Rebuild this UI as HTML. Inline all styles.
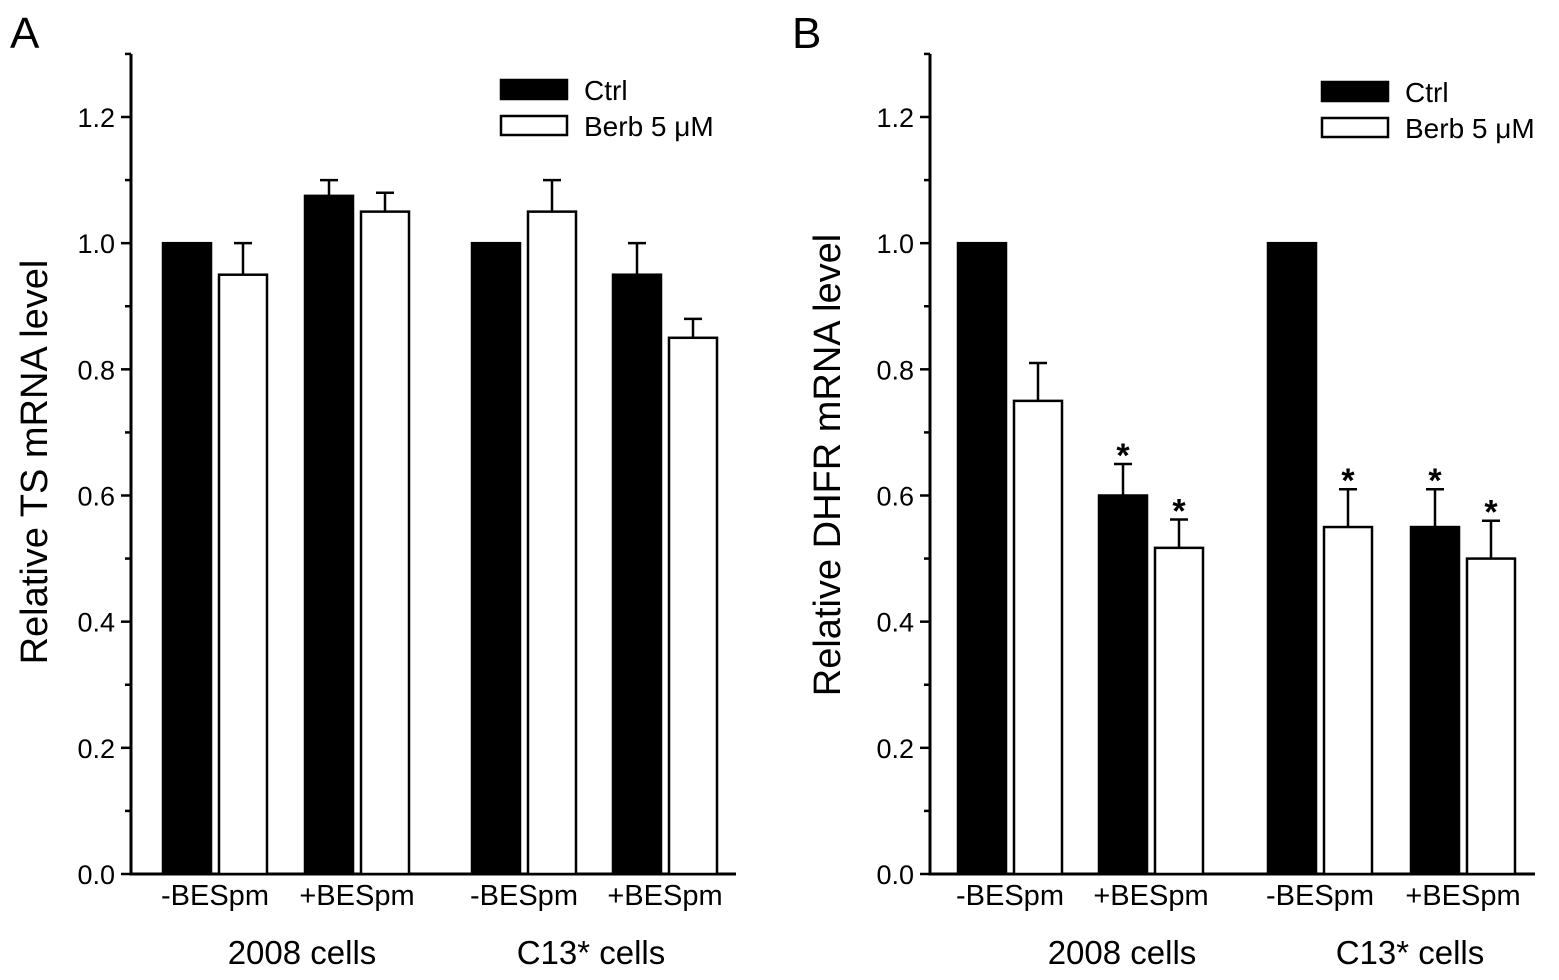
<!DOCTYPE html>
<html><head><meta charset="utf-8">
<style>html,body{margin:0;padding:0;background:#fff}svg{display:block;font-family:"Liberation Sans",Arial,sans-serif}</style>
</head><body>
<svg id="chart" width="1559" height="980" viewBox="0 0 1559 980"></svg>
<script>
const categories = ["-BESpm","+BESpm","-BESpm","+BESpm"];
const groups = ["2008 cells","C13* cells"];
const yTicks = [0.0,0.2,0.4,0.6,0.8,1.0,1.2];
const yTickLabels = ["0.0","0.2","0.4","0.6","0.8","1.0","1.2"];
const tsCtrl = [1.0,1.075,1.0,0.95];
const tsCtrlErr = [0,0.025,0,0.05];
const tsBerb = [0.95,1.05,1.05,0.85];
const tsBerbErr = [0.05,0.03,0.05,0.03];
const dhfrCtrl = [1.0,0.60,1.0,0.55];
const dhfrCtrlErr = [0,0.05,0,0.06];
const dhfrBerb = [0.75,0.517,0.55,0.50];
const dhfrBerbErr = [0.06,0.045,0.06,0.06];
const dhfrCtrlSig = [false,true,false,true];
const dhfrBerbSig = [false,true,true,true];

const NS="http://www.w3.org/2000/svg";
const svg=document.getElementById('chart');
function el(tag,attrs,parent){const e=document.createElementNS(NS,tag);for(const k in attrs)e.setAttribute(k,attrs[k]);(parent||svg).appendChild(e);return e;}
function txt(s,attrs,parent){const e=el('text',attrs,parent);e.textContent=s;return e;}

function panel(o){
  const g=el('g',{});
  
  
  const y0=874, pxPer=(874-117)/1.2;
  const Y=v=>y0-v*pxPer;
  const ax=o.axisX;
  const ya=el('line',{x1:ax,y1:Y(1.3),x2:ax,y2:y0+1.5,stroke:'#000','stroke-width':3},g);
  
  
  for(let i=0;i<=13;i++){const v=i*0.1;const major=i%2===0;
    el('line',{x1:ax-(major?10:6),y1:Y(v),x2:ax,y2:Y(v),stroke:'#000','stroke-width':2.5},g);}
  yTicks.forEach((v,i)=>{const t=txt(yTickLabels[i],{x:ax-16,y:Y(v)+10,'font-size':27,'text-anchor':'end'},g);
    
    });
  const xa=el('line',{x1:ax,y1:y0,x2:o.axisEnd,y2:y0,stroke:'#000','stroke-width':3},g);
  
  
  const yt=txt(o.ytitle,{x:0,y:0,'font-size':38,'text-anchor':'middle',transform:`translate(${o.ytitleX},${o.ytitleY}) rotate(-90)`},g);
  
  
  const pl=txt(o.letter,{x:o.letterX,y:48,'font-size':44},g);
  
  
  const bw=48;
  categories.forEach((c,i)=>{
    const cx=o.centers[i];
    [[o.ctrl,o.ctrlErr,o.ctrlSig,'#000',cx-4-bw],[o.berb,o.berbErr,o.berbSig,'#fff',cx+4]].forEach(([vals,errs,sig,fill,x],k)=>{
      const v=vals[i], e=errs[i];
      if(e>0){el('line',{x1:x+bw/2,y1:Y(v),x2:x+bw/2,y2:Y(v+e),stroke:'#000','stroke-width':2.5},g);
        el('line',{x1:x+bw/2-9,y1:Y(v+e),x2:x+bw/2+9,y2:Y(v+e),stroke:'#000','stroke-width':2.5},g);}
      const r=el('rect',{x:x,y:Y(v),width:bw,height:y0-Y(v),fill:fill,stroke:'#000','stroke-width':2.5},g);
      
      
      if(sig&&sig[i]){const s=txt('*',{x:x+bw/2,y:Y(v+e)+3,'font-size':34,'font-weight':'bold','text-anchor':'middle'},g);
        
        }
    });
    const t=txt(c,{x:cx,y:905,'font-size':29,'text-anchor':'middle'},g);
    
    
  });
  groups.forEach((gname,j)=>{const cx=o.groupCenters[j];
    const t=txt(gname,{x:cx,y:964,'font-size':33,'text-anchor':'middle'},g);
    
    });
  const lx=o.legX, ly=o.legY;
  const l1=el('rect',{x:lx,y:ly,width:66,height:19,fill:'#000',stroke:'#000','stroke-width':2.5},g);
  
  
  const l2=el('rect',{x:lx,y:ly+36,width:66,height:19,fill:'#fff',stroke:'#000','stroke-width':2.5},g);
  
  
  const lt1=txt('Ctrl',{x:lx+83,y:ly+20,'font-size':28},g);
  
  
  const lt2=txt('Berb 5 μM',{x:lx+83,y:ly+56,'font-size':28},g);
  
  
}
panel({name:'panel-a',letter:'A',letterX:10,axisX:131,axisEnd:736,ytitleX:47,ytitleY:462,ytitle:'Relative TS mRNA level',
  centers:[215,357,524,665],groupCenters:[302,591],ctrl:tsCtrl,ctrlErr:tsCtrlErr,berb:tsBerb,berbErr:tsBerbErr,legX:501,legY:80});
panel({name:'panel-b',letter:'B',letterX:792,axisX:930,axisEnd:1535,ytitleX:840,ytitleY:465,ytitle:'Relative DHFR mRNA level',
  centers:[1010,1151,1320,1463],groupCenters:[1122,1410],ctrl:dhfrCtrl,ctrlErr:dhfrCtrlErr,berb:dhfrBerb,berbErr:dhfrBerbErr,
  ctrlSig:dhfrCtrlSig,berbSig:dhfrBerbSig,legX:1322,legY:82});
</script>
</body></html>
